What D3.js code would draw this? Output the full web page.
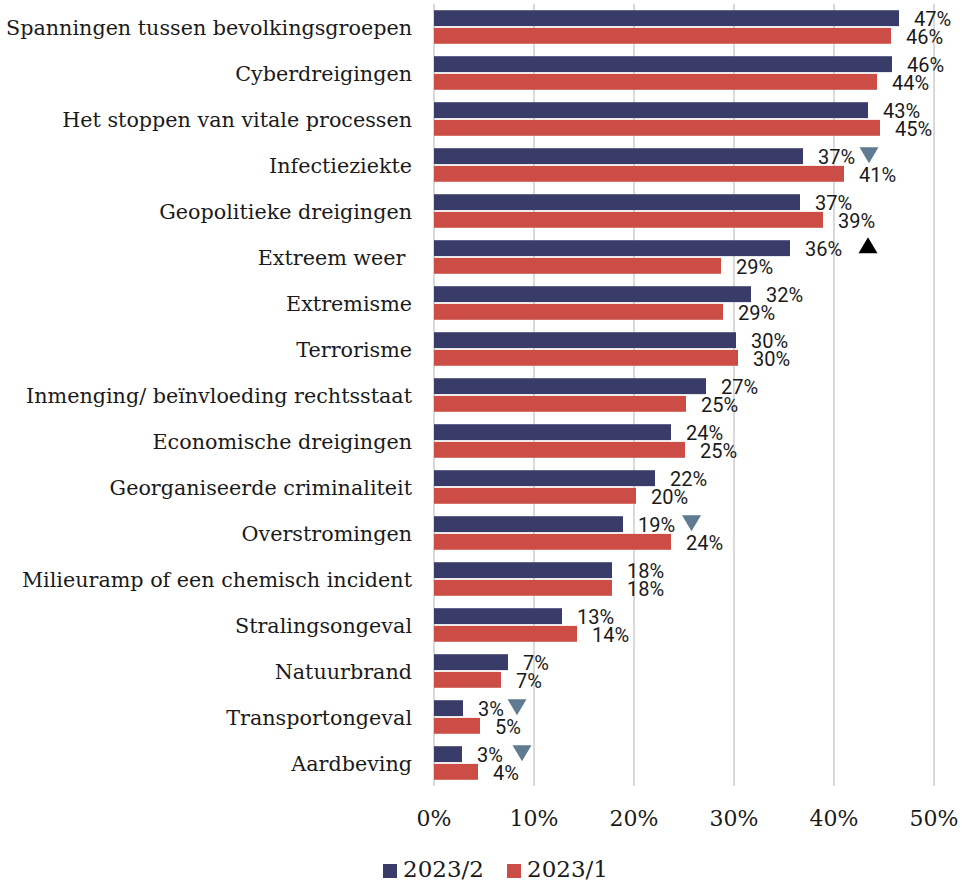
<!DOCTYPE html>
<html lang="nl">
<head>
<meta charset="UTF-8">
<title>Dreigingen 2023</title>
<script src="https://d3js.org/d3.v7.min.js"></script>
<style>
  body { margin: 0; background: #fff; }
  svg text { fill: #1a1a1a; }
  .cat { font-family: "DejaVu Serif", serif; font-size: 20.7px; white-space: pre; }
  .val { font-family: Roboto, "Liberation Sans", sans-serif; font-size: 20px; }
  .tick-lbl { font-family: "DejaVu Serif", serif; font-size: 22px; }
  .leg { font-family: "DejaVu Serif", serif; font-size: 23px; }
</style>
</head>
<body>
<div id="chart"></div>
<script>
// categories, top to bottom
var categories = [
  "Spanningen tussen bevolkingsgroepen",
  "Cyberdreigingen",
  "Het stoppen van vitale processen",
  "Infectieziekte",
  "Geopolitieke dreigingen",
  "Extreem weer ",
  "Extremisme",
  "Terrorisme",
  "Inmenging/ beïnvloeding rechtsstaat",
  "Economische dreigingen",
  "Georganiseerde criminaliteit",
  "Overstromingen",
  "Milieuramp of een chemisch incident",
  "Stralingsongeval",
  "Natuurbrand",
  "Transportongeval",
  "Aardbeving"
];

var seriesNames = ["2023/2", "2023/1"];

// percentages
var wave2 = [46.5, 45.8, 43.4, 36.9, 36.6, 35.6, 31.7, 30.2, 27.2, 23.7, 22.1, 18.9, 17.8, 12.8, 7.4, 2.9, 2.8];
var wave1 = [45.7, 44.3, 44.6, 41.0, 38.9, 28.7, 28.9, 30.4, 25.2, 25.1, 20.2, 23.7, 17.8, 14.3, 6.7, 4.6, 4.4];

var xTicks = [0, 10, 20, 30, 40, 50];

// change markers (position in % on the x scale)
var markers = [
  {cat: "Infectieziekte", dir: "down", at: 43.5},
  {cat: "Extreem weer ", dir: "up", at: 43.4},
  {cat: "Overstromingen", dir: "down", at: 25.75},
  {cat: "Transportongeval", dir: "down", at: 8.3},
  {cat: "Aardbeving", dir: "down", at: 8.8}
];

var W = 962, H = 882;
var colors = {"2023/2": "#393c69", "2023/1": "#cb4d45"};

var svg = d3.select("#chart").append("svg")
  .attr("width", W).attr("height", H);

var x = d3.scaleLinear().domain([0, 50]).range([434, 934]);

var y = d3.scaleBand()
  .domain(categories)
  .range([4, 786])
  .paddingInner(0.27)
  .paddingOuter(0.135);

var ySub = d3.scaleBand()
  .domain(seriesNames)
  .range([0, y.bandwidth()])
  .paddingInner(0.1);

// gridlines
svg.append("g").selectAll("line")
  .data(xTicks)
  .enter().append("line")
    .attr("x1", function(d) { return x(d); })
    .attr("x2", function(d) { return x(d); })
    .attr("y1", 4)
    .attr("y2", 786)
    .attr("stroke", "#d9d9d9")
    .attr("stroke-width", 2);

// tick labels
svg.append("g").selectAll("text")
  .data(xTicks)
  .enter().append("text")
    .attr("class", "tick-lbl")
    .attr("x", function(d) { return x(d); })
    .attr("y", 826)
    .attr("text-anchor", "middle")
    .text(function(d) { return d + "%"; });

var rows = categories.map(function(c, i) {
  return {cat: c, vals: [
    {s: "2023/2", v: wave2[i]},
    {s: "2023/1", v: wave1[i]}
  ]};
});

// category labels
svg.append("g").selectAll("text")
  .data(categories)
  .enter().append("text")
    .attr("class", "cat")
    .attr("x", 412)
    .attr("y", function(d) { return y(d) + y.bandwidth() / 2 + 7.5; })
    .attr("text-anchor", "end")
    .text(function(d) { return d; });

var groups = svg.append("g").selectAll("g")
  .data(rows)
  .enter().append("g")
    .attr("transform", function(d) { return "translate(0," + y(d.cat) + ")"; });

groups.selectAll("rect")
  .data(function(d) { return d.vals; })
  .enter().append("rect")
    .attr("x", x(0))
    .attr("y", function(d) { return ySub(d.s); })
    .attr("width", function(d) { return x(d.v) - x(0); })
    .attr("height", ySub.bandwidth())
    .attr("fill", function(d) { return colors[d.s]; });

groups.selectAll("text")
  .data(function(d) { return d.vals; })
  .enter().append("text")
    .attr("class", "val")
    .attr("x", function(d) { return x(d.v) + 15; })
    .attr("y", function(d) { return ySub(d.s) + ySub.bandwidth(); })
    .text(function(d) { return Math.round(d.v) + "%"; });

// triangles
svg.append("g").selectAll("path")
  .data(markers)
  .enter().append("path")
    .attr("d", function(d) {
      var cx = x(d.at);
      var cy = y(d.cat) + ySub("2023/2") + ySub.bandwidth() / 2 - 1;
      if (d.dir === "down") {
        return "M" + (cx - 9.5) + "," + (cy - 8) + "L" + (cx + 9.5) + "," + (cy - 8) + "L" + cx + "," + (cy + 8) + "Z";
      }
      return "M" + (cx - 9.5) + "," + (cy + 6) + "L" + (cx + 9.5) + "," + (cy + 6) + "L" + cx + "," + (cy - 10) + "Z";
    })
    .attr("fill", function(d) { return d.dir === "down" ? "#5e7b91" : "#000"; });

// legend
var leg = svg.append("g").selectAll("g")
  .data(seriesNames)
  .enter().append("g")
    .attr("transform", function(d, i) { return "translate(" + (383 + i * 124) + ",0)"; });

leg.append("rect")
  .attr("x", 0).attr("y", 864)
  .attr("width", 14).attr("height", 14)
  .attr("fill", function(d) { return colors[d]; });

leg.append("text")
  .attr("class", "leg")
  .attr("x", 20)
  .attr("y", 877)
  .text(function(d) { return d; });
</script>
</body>
</html>
